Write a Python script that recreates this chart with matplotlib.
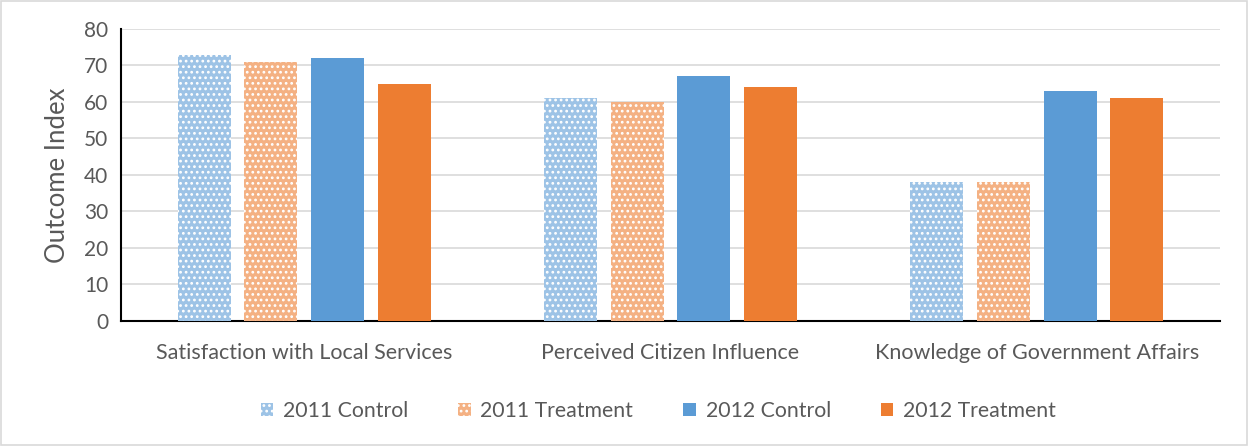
import matplotlib
matplotlib.use("Agg")
import matplotlib.pyplot as plt
import numpy as np
from matplotlib.patches import Rectangle

categories = ["Satisfaction with Local Services", "Perceived Citizen Influence", "Knowledge of Government Affairs"]
series_names = ["2011 Control", "2011 Treatment", "2012 Control", "2012 Treatment"]
control_2011 = [73, 61, 38]
treatment_2011 = [71, 60, 38]
control_2012 = [72, 67, 63]
treatment_2012 = [65, 64, 61]
yticks = [0, 10, 20, 30, 40, 50, 60, 70, 80]

series = [control_2011, treatment_2011, control_2012, treatment_2012]
colors = ["#9DC3E6", "#F4B183", "#5B9BD5", "#ED7D31"]
hatches = ["...", "...", None, None]

plt.rcParams['font.family'] = ['Lato', 'DejaVu Sans']
plt.rcParams['hatch.linewidth'] = 1.2

fig = plt.figure(figsize=(12.49, 4.46), dpi=100)
ax = fig.add_axes([0.0969, 0.2803, 0.8799, 0.6547])
fig.patches.append(Rectangle((0.001, 0.002), 0.997, 0.995, transform=fig.transFigure,
                             fill=False, edgecolor="#D9D9D9", linewidth=1.2))

x = np.arange(len(categories))
w = 0.145
step = 0.182
offsets = (np.arange(4) - 1.5) * step
for vals, c, h, off, name in zip(series, colors, hatches, offsets, series_names):
    if h:
        ax.bar(x + off, vals, width=w, color=c, edgecolor="white", linewidth=0, hatch=h, label=name, zorder=3)
    else:
        ax.bar(x + off, vals, width=w, color=c, linewidth=0, label=name, zorder=3)

ax.set_xlim(-0.5, 2.5)
ax.set_ylim(0, 80)
ax.set_yticks(yticks)
ax.set_xticks(x)
ax.set_xticklabels(categories)
ax.tick_params(axis='both', length=0, colors="#595959")
ax.tick_params(axis='x', pad=16, labelsize=15.5)
ax.tick_params(axis='y', pad=9, labelsize=15)
ax.yaxis.grid(True, color="#D9D9D9", linewidth=1.2, zorder=0)
ax.set_axisbelow(True)
for s in ["top", "right"]:
    ax.spines[s].set_visible(False)
ax.spines["left"].set_color("black")
ax.spines["bottom"].set_color("black")
ax.spines["left"].set_linewidth(1.5)
ax.spines["bottom"].set_linewidth(1.5)
ax.set_ylabel("Outcome Index", fontsize=18.5, color="#595959", labelpad=10)

leg = fig.legend(loc="center", bbox_to_anchor=(0.527, 0.079), ncol=4, frameon=False,
                 fontsize=15.3, handlelength=0.6, handleheight=0.6, columnspacing=2.35, handletextpad=0.45)
for t in leg.get_texts():
    t.set_color("#595959")

fig.savefig("out.png", dpi=100)
